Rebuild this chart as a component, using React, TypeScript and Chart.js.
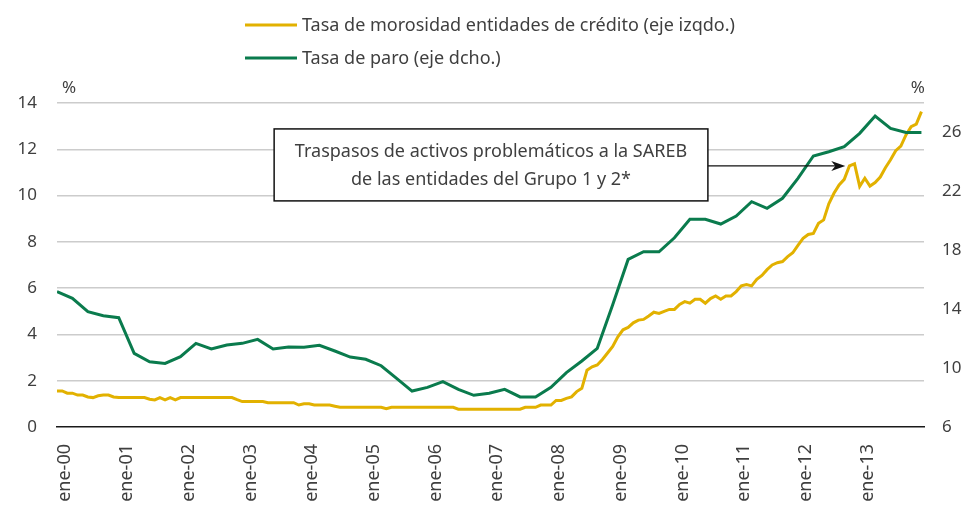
import React, { useEffect, useRef } from 'react';
import { Chart, registerables } from 'chart.js';

Chart.register(...registerables);

// Monthly axis: index 0 = dic-99 ... index 168 = dic-13
const yearTickLabels = [
  'ene-00', 'ene-01', 'ene-02', 'ene-03', 'ene-04', 'ene-05', 'ene-06',
  'ene-07', 'ene-08', 'ene-09', 'ene-10', 'ene-11', 'ene-12', 'ene-13',
];
const leftTickValues = [0, 2, 4, 6, 8, 10, 12, 14];
const rightTickValues = [6, 10, 14, 18, 22, 26];

// Tasa de morosidad entidades de crédito (%), monthly dic-99 .. dic-13
const morosidad = [
  1.56, 1.56, 1.46, 1.46, 1.38, 1.38, 1.30, 1.27, 1.35, 1.38, 1.38, 1.30,
  1.27, 1.27, 1.27, 1.27, 1.27, 1.27, 1.20, 1.17, 1.27, 1.17, 1.27, 1.17,
  1.27, 1.27, 1.27, 1.27, 1.27, 1.27, 1.27, 1.27, 1.27, 1.27, 1.27, 1.18,
  1.10, 1.10, 1.10, 1.10, 1.10, 1.05, 1.05, 1.05, 1.05, 1.05, 1.05, 0.95,
  1.00, 1.00, 0.95, 0.95, 0.95, 0.95, 0.90, 0.85, 0.85, 0.85, 0.85, 0.85,
  0.85, 0.85, 0.85, 0.85, 0.79, 0.85, 0.85, 0.85, 0.85, 0.85, 0.85, 0.85,
  0.85, 0.85, 0.85, 0.85, 0.85, 0.85, 0.77, 0.77, 0.77, 0.77, 0.77, 0.77,
  0.77, 0.77, 0.77, 0.77, 0.77, 0.77, 0.77, 0.85, 0.85, 0.85, 0.95, 0.95,
  0.95, 1.15, 1.15, 1.24, 1.30, 1.53, 1.67, 2.45, 2.60, 2.68, 2.92, 3.20,
  3.48, 3.90, 4.20, 4.30, 4.50, 4.62, 4.65, 4.80, 4.96, 4.91, 5.00, 5.08,
  5.08, 5.30, 5.42, 5.35, 5.52, 5.52, 5.35, 5.55, 5.66, 5.52, 5.66, 5.66,
  5.85, 6.10, 6.16, 6.10, 6.38, 6.55, 6.80, 7.00, 7.10, 7.15, 7.36, 7.53,
  7.85, 8.15, 8.32, 8.36, 8.80, 8.95, 9.64, 10.10, 10.46, 10.70, 11.28, 11.37,
  10.40, 10.75, 10.41, 10.56, 10.80, 11.20, 11.55, 11.94, 12.14, 12.62, 12.98, 13.09,
  13.63,
];

// Tasa de paro (%), quarterly IV-99 .. IV-13 (every third month on the axis)
const paro = [
  15.19, 14.74, 13.83, 13.56, 13.42, 11.00, 10.43, 10.32, 10.77, 11.68,
  11.30, 11.57, 11.68, 11.95, 11.30, 11.43, 11.41, 11.55, 11.16, 10.75,
  10.60, 10.16, 9.30, 8.44, 8.69, 9.08, 8.56, 8.15, 8.29, 8.56,
  8.04, 8.04, 8.69, 9.69, 10.48, 11.34, 14.30, 17.38, 17.90, 17.90,
  18.85, 20.10, 20.10, 19.78, 20.32, 21.30, 20.85, 21.53, 22.88, 24.40,
  24.69, 25.03, 25.94, 27.11, 26.28, 26.00, 26.00,
];

const legendLabels = [
  'Tasa de morosidad entidades de crédito (eje izqdo.)',
  'Tasa de paro (eje dcho.)',
];
const annotationLines = [
  'Traspasos de activos problemáticos a la SAREB',
  'de las entidades del Grupo 1 y 2*',
];

const YELLOW = '#e2b100';
const GREEN = '#0a7b4d';
const TEXT = '#3f3f3f';
const FONT = '"Noto Sans", "DejaVu Sans", sans-serif';
const FS = 18;

const overlayPlugin = {
  id: 'overlay',
  afterDatasetsDraw(chart: any) {
    const { ctx, scales } = chart;
    const xs = scales.x;
    const ys = scales.y;
    ctx.save();
    // annotation box
    const bx1 = xs.getPixelForValue(42.2);
    const bx2 = xs.getPixelForValue(126.5);
    const by1 = ys.getPixelForValue(12.88);
    const by2 = ys.getPixelForValue(9.77);
    ctx.fillStyle = '#ffffff';
    ctx.fillRect(bx1, by1, bx2 - bx1, by2 - by1);
    ctx.strokeStyle = '#111';
    ctx.lineWidth = 1.5;
    ctx.strokeRect(bx1, by1, bx2 - bx1, by2 - by1);
    ctx.fillStyle = TEXT;
    ctx.font = `${FS}px ${FONT}`;
    ctx.textAlign = 'center';
    ctx.textBaseline = 'middle';
    const cx = (bx1 + bx2) / 2;
    ctx.fillText(annotationLines[0], cx, by1 + 23);
    ctx.fillText(annotationLines[1], cx, by1 + 51);
    // arrow
    const ay = ys.getPixelForValue(11.28);
    const tipX = xs.getPixelForValue(153.2);
    ctx.strokeStyle = '#111';
    ctx.lineWidth = 1.2;
    ctx.beginPath();
    ctx.moveTo(bx2, ay);
    ctx.lineTo(tipX - 8, ay);
    ctx.stroke();
    ctx.fillStyle = '#111';
    ctx.beginPath();
    ctx.moveTo(tipX, ay);
    ctx.lineTo(tipX - 14, ay - 5);
    ctx.lineTo(tipX - 10, ay);
    ctx.lineTo(tipX - 14, ay + 5);
    ctx.closePath();
    ctx.fill();
    ctx.restore();
  },
  afterDraw(chart: any) {
    const { ctx, chartArea } = chart;
    ctx.save();
    // legend
    const colors = [YELLOW, GREEN];
    const ly = [25, 58];
    ctx.font = `${FS}px ${FONT}`;
    ctx.textAlign = 'left';
    ctx.textBaseline = 'middle';
    legendLabels.forEach((t, i) => {
      ctx.strokeStyle = colors[i];
      ctx.lineWidth = 3;
      ctx.beginPath();
      ctx.moveTo(245, ly[i]);
      ctx.lineTo(297, ly[i]);
      ctx.stroke();
      ctx.fillStyle = TEXT;
      ctx.fillText(t, 302, ly[i] + 1);
    });
    // unit labels
    ctx.font = `${FS - 1}px ${FONT}`;
    ctx.fillStyle = TEXT;
    ctx.textAlign = 'left';
    ctx.fillText('%', chartArea.left + 5, 88);
    ctx.textAlign = 'right';
    ctx.fillText('%', chartArea.right + 1, 88);
    ctx.restore();
  },
};

export default function App() {
  const canvasRef = useRef<HTMLCanvasElement | null>(null);

  useEffect(() => {
    const canvas = canvasRef.current;
    if (!canvas) return;
    const chart = new Chart(canvas, {
      type: 'line',
      data: {
        datasets: [
          {
            label: legendLabels[0],
            data: morosidad.map((v, i) => ({ x: i, y: v })),
            borderColor: YELLOW,
            backgroundColor: YELLOW,
            borderWidth: 3,
            pointRadius: 0,
            tension: 0,
            yAxisID: 'y',
            order: 2,
          },
          {
            label: legendLabels[1],
            data: paro.map((v, i) => ({ x: i * 3, y: v })),
            borderColor: GREEN,
            backgroundColor: GREEN,
            borderWidth: 3,
            pointRadius: 0,
            tension: 0,
            yAxisID: 'y1',
            order: 1,
          },
        ],
      },
      options: {
        responsive: false,
        animation: false,
        events: [],
        layout: { padding: { top: 103, left: 0, right: 0, bottom: 0 } },
        plugins: {
          legend: { display: false },
          tooltip: { enabled: false },
          title: { display: false },
        },
        scales: {
          x: {
            type: 'linear',
            min: 0,
            max: 168.5,
            afterBuildTicks: (scale: any) => {
              scale.ticks = yearTickLabels.map((_, i) => ({ value: 1 + 12 * i }));
            },
            afterFit: (scale: any) => {
              scale.height = 97;
            },
            grid: { display: false, drawTicks: false },
            border: { display: true, color: '#1a1a1a', width: 1.5 },
            ticks: {
              autoSkip: false,
              minRotation: 90,
              maxRotation: 90,
              padding: 17,
              labelOffset: 3,
              color: TEXT,
              font: { family: FONT, size: FS },
              callback: (_v: any, i: number) => yearTickLabels[i],
            },
          },
          y: {
            position: 'left',
            min: 0,
            max: 14,
            afterBuildTicks: (scale: any) => {
              scale.ticks = leftTickValues.map((v) => ({ value: v }));
            },
            afterFit: (scale: any) => {
              scale.width = 57;
            },
            grid: {
              drawTicks: false,
              lineWidth: 1.5,
              color: (c: any) => (c.tick && c.tick.value === 0 ? 'rgba(0,0,0,0)' : '#cccccc'),
            },
            border: { display: false },
            ticks: {
              padding: 20,
              color: TEXT,
              font: { family: FONT, size: FS - 1 },
            },
          },
          y1: {
            position: 'right',
            min: 6,
            max: 28,
            afterBuildTicks: (scale: any) => {
              scale.ticks = rightTickValues.map((v) => ({ value: v }));
            },
            afterFit: (scale: any) => {
              scale.width = 41;
            },
            grid: { display: false, drawTicks: false },
            border: { display: false },
            ticks: {
              padding: 18,
              color: TEXT,
              font: { family: FONT, size: FS - 1 },
            },
          },
        },
      },
      plugins: [overlayPlugin],
    });
    return () => chart.destroy();
  }, []);

  return (
    <div style={{ position: 'absolute', left: 0, top: 0, width: 965, height: 524, background: '#fff' }}>
      <canvas ref={canvasRef} width={965} height={524} style={{ display: 'block', width: 965, height: 524 }} />
    </div>
  );
}
